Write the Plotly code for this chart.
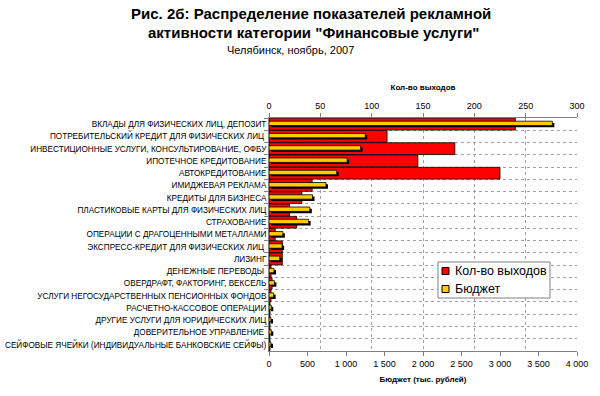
import plotly.graph_objects as go

categories = [
    "ВКЛАДЫ ДЛЯ ФИЗИЧЕСКИХ ЛИЦ, ДЕПОЗИТ",
    "ПОТРЕБИТЕЛЬСКИЙ КРЕДИТ ДЛЯ ФИЗИЧЕСКИХ ЛИЦ ",
    "ИНВЕСТИЦИОННЫЕ УСЛУГИ, КОНСУЛЬТИРОВАНИЕ, ОФБУ",
    "ИПОТЕЧНОЕ КРЕДИТОВАНИЕ",
    "АВТОКРЕДИТОВАНИЕ",
    "ИМИДЖЕВАЯ РЕКЛАМА",
    "КРЕДИТЫ ДЛЯ БИЗНЕСА",
    "ПЛАСТИКОВЫЕ КАРТЫ ДЛЯ ФИЗИЧЕСКИХ ЛИЦ",
    "СТРАХОВАНИЕ",
    "ОПЕРАЦИИ С ДРАГОЦЕННЫМИ МЕТАЛЛАМИ",
    "ЭКСПРЕСС-КРЕДИТ ДЛЯ ФИЗИЧЕСКИХ ЛИЦ ",
    "ЛИЗИНГ",
    "ДЕНЕЖНЫЕ ПЕРЕВОДЫ ",
    "ОВЕРДРАФТ, ФАКТОРИНГ, ВЕКСЕЛЬ",
    "УСЛУГИ НЕГОСУДАРСТВЕННЫХ ПЕНСИОННЫХ ФОНДОВ",
    "РАСЧЕТНО-КАССОВОЕ ОПЕРАЦИИ",
    "ДРУГИЕ УСЛУГИ ДЛЯ ЮРИДИЧЕСКИХ ЛИЦ",
    "ДОВЕРИТЕЛЬНОЕ УПРАВЛЕНИЕ ",
    "СЕЙФОВЫЕ ЯЧЕЙКИ (ИНДИВИДУАЛЬНЫЕ БАНКОВСКИЕ СЕЙФЫ)",
]

counts = [240, 115, 181, 145, 225, 42, 32, 20, 27, 6, 13, 13, 2, 3, 2, 1, 1, 1, 1]
budget = [3680, 1250, 1190, 1015, 880, 740, 565, 530, 515, 180, 170, 140, 65, 70, 60, 30, 25, 30, 25]

count_ticks = [0, 50, 100, 150, 200, 250, 300]
budget_ticks = [0, 500, 1000, 1500, 2000, 2500, 3000, 3500, 4000]
budget_tick_labels = ["0", "500", "1 000", "1 500", "2 000", "2 500", "3 000", "3 500", "4 000"]

series_names = ["Кол-во выходов", "Бюджет"]

FONT = "Liberation Sans, Arial, sans-serif"
RED = "#FF0000"
YELLOW = "#FFCC00"

W, H = 600, 396
ML, MR, MT, MB = 269, 23, 118, 45
plot_w = W - ML - MR
plot_h = H - MT - MB


def px_x(X):
    return (X - ML) / plot_w


def px_y(Y):
    return (H - MB - Y) / plot_h


# shadow shift of the budget bars (style): ~2 px expressed in budget units
shadow_dx = 2 * (budget_ticks[-1] / plot_w)

fig = go.Figure()

fig.add_trace(go.Bar(
    y=categories, x=counts, orientation="h", name=series_names[0],
    xaxis="x", yaxis="y", width=0.96, showlegend=False,
    marker=dict(color=RED, line=dict(color="#000000", width=0.8)),
))
fig.add_trace(go.Bar(
    y=categories, x=budget, base=shadow_dx, orientation="h", showlegend=False,
    xaxis="x2", yaxis="y", width=0.36, offset=-0.10,
    marker=dict(color="#000000", line=dict(width=0)),
    hoverinfo="skip",
))
fig.add_trace(go.Bar(
    y=categories, x=budget, orientation="h", name=series_names[1],
    xaxis="x2", yaxis="y", width=0.36, offset=-0.24, showlegend=False,
    marker=dict(color=YELLOW, line=dict(color="#000000", width=0.8)),
))

# custom legend (box, swatches, labels)
LX0, LX1, LY0, LY1 = 438, 550, 262, 298
shapes = [
    dict(type="rect", xref="paper", yref="paper",
         x0=px_x(LX0), x1=px_x(LX1), y0=px_y(LY1), y1=px_y(LY0),
         fillcolor="white", line=dict(color="#808080", width=1), layer="above"),
]
legend_annots = []
for i, (nm, col) in enumerate(zip(series_names, [RED, YELLOW])):
    cy = 271 + i * 18
    shapes.append(dict(type="rect", xref="paper", yref="paper",
                       x0=px_x(442), x1=px_x(449), y0=px_y(cy + 3.5), y1=px_y(cy - 3.5),
                       fillcolor=col, line=dict(color="#000000", width=1), layer="above"))
    legend_annots.append(dict(text=nm, xref="paper", yref="paper",
                              x=px_x(453), y=px_y(cy), xanchor="left", yanchor="middle",
                              showarrow=False, font=dict(size=12.5, family=FONT)))

fig.update_layout(
    width=W, height=H,
    margin=dict(l=ML, r=MR, t=MT, b=MB, autoexpand=False),
    paper_bgcolor="white", plot_bgcolor="white",
    barmode="overlay", showlegend=False,
    font=dict(family=FONT, color="#000000", size=9),
    xaxis=dict(
        side="top", range=[0, 300], tickvals=count_ticks,
        ticks="outside", ticklen=4, tickcolor="#808080",
        showline=True, linecolor="#808080", linewidth=1,
        showgrid=True, gridcolor="#a0a0a0", griddash="dot", gridwidth=1,
        zeroline=False, automargin=False,
        tickfont=dict(size=9, family=FONT),
        title=dict(text="<b>Кол-во выходов</b>", font=dict(size=8, family=FONT), standoff=9),
    ),
    xaxis2=dict(
        overlaying="x", side="bottom", anchor="y", range=[0, 4000],
        tickvals=budget_ticks, ticktext=budget_tick_labels,
        ticks="outside", ticklen=4, tickcolor="#808080",
        showline=True, linecolor="#808080", linewidth=1,
        showgrid=False, zeroline=False, automargin=False,
        tickfont=dict(size=9, family=FONT),
        title=dict(text="<b>Бюджет (тыс. рублей)</b>", font=dict(size=8, family=FONT), standoff=8),
    ),
    yaxis=dict(
        type="category", categoryorder="array", categoryarray=categories,
        autorange="reversed", tickson="boundaries",
        ticks="outside", ticklen=4, tickcolor="#808080",
        showline=True, linecolor="#808080", linewidth=1,
        showgrid=True, gridcolor="#a0a0a0", griddash="dot", gridwidth=1,
        zeroline=False, automargin=False,
        tickfont=dict(size=8.2, family=FONT),
    ),
    shapes=shapes,
    annotations=[
        dict(text="<b>Рис. 2б: Распределение показателей рекламной</b>",
             xref="paper", yref="paper", x=px_x(311), y=px_y(13),
             xanchor="center", yanchor="middle", showarrow=False,
             font=dict(size=15, family=FONT)),
        dict(text="<b>активности категории \"Финансовые услуги\"</b>",
             xref="paper", yref="paper", x=px_x(313), y=px_y(32),
             xanchor="center", yanchor="middle", showarrow=False,
             font=dict(size=15, family=FONT)),
        dict(text="Челябинск, ноябрь, 2007",
             xref="paper", yref="paper", x=px_x(290), y=px_y(50),
             xanchor="center", yanchor="middle", showarrow=False,
             font=dict(size=11, family=FONT)),
    ] + legend_annots,
)

fig.write_html("out.html", config={"displayModeBar": False},
               post_script="document.body.style.margin='0px';")
